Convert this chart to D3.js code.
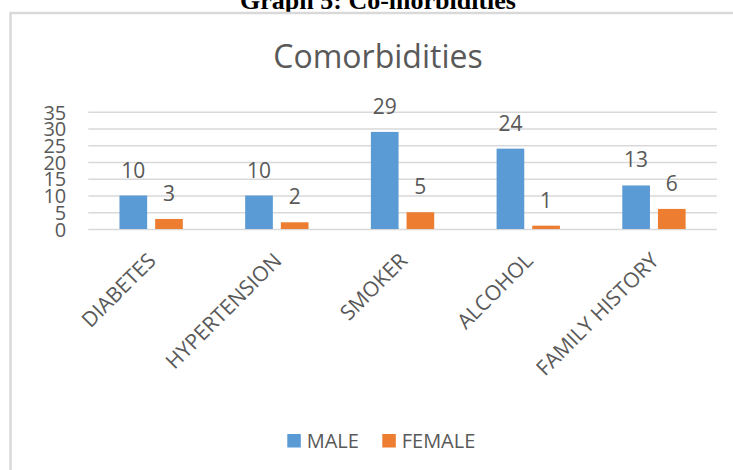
<!DOCTYPE html>
<html>
<head>
<meta charset="utf-8">
<script src="https://cdn.jsdelivr.net/npm/d3@7"></script>
<style>
  html, body { margin: 0; padding: 0; background: #fff; }
  svg { display: block; }
  text { font-family: "Open Sans", sans-serif; fill: #595959; }
</style>
</head>
<body>
<svg id="chart" width="733" height="470"></svg>
<script>
const categories = ["DIABETES", "HYPERTENSION", "SMOKER", "ALCOHOL", "FAMILY HISTORY"];
const seriesNames = ["MALE", "FEMALE"];
const maleValues = [10, 10, 29, 24, 13];
const femaleValues = [3, 2, 5, 1, 6];
const yTicks = [0, 5, 10, 15, 20, 25, 30, 35];
const colors = ["#5B9BD5", "#ED7D31"];

const svg = d3.select("#chart");

// header caption (cut at top)
svg.append("text")
  .attr("x", 378).attr("y", 9)
  .attr("text-anchor", "middle")
  .style("font-family", "'Liberation Serif', 'Times New Roman', serif")
  .style("font-weight", "bold")
  .style("font-size", "26px")
  .style("fill", "#000")
  .text("Graph 5: Co-morbidities");

// chart frame
svg.append("rect")
  .attr("x", 10.5).attr("y", 13)
  .attr("width", 900).attr("height", 600)
  .attr("fill", "none")
  .attr("stroke", "#d9d9d9")
  .attr("stroke-width", 2.5);

// title
svg.append("text")
  .attr("x", 378).attr("y", 67.5)
  .attr("text-anchor", "middle")
  .style("font-size", "32px")
  .text("Comorbidities");

const plot = { left: 88.3, right: 716.8, top: 111.8, bottom: 229 };

const x0 = d3.scaleBand().domain(categories)
  .range([plot.left, plot.right])
  .paddingInner(0.496).paddingOuter(0.248);
const x1 = d3.scaleBand().domain(seriesNames)
  .range([0, x0.bandwidth()])
  .paddingInner(0.224).paddingOuter(0);
const y = d3.scaleLinear().domain([0, 35]).range([plot.bottom, plot.top]);

// y axis with gridlines
const yAxis = d3.axisLeft(y).tickValues(yTicks)
  .tickSize(-(plot.right - plot.left)).tickPadding(22);
const gy = svg.append("g").attr("transform", `translate(${plot.left},0)`).call(yAxis);
gy.select(".domain").remove();
gy.selectAll(".tick line").attr("stroke", "#d9d9d9").attr("stroke-width", 1.6);
gy.selectAll(".tick text")
  .style("font-family", "'Open Sans', sans-serif")
  .style("font-size", "20px")
  .attr("fill", "#595959")
  .attr("dy", "0.36em");

// x axis labels
const xAxis = d3.axisBottom(x0).tickSize(0).tickPadding(0);
const gx = svg.append("g").attr("transform", `translate(0,${plot.bottom})`).call(xAxis);
gx.select(".domain").remove();
gx.selectAll(".tick text")
  .style("font-family", "'Open Sans', sans-serif")
  .style("font-size", "21px")
  .attr("fill", "#595959")
  .attr("y", 0).attr("dy", 0)
  .attr("text-anchor", "end")
  .attr("transform", "translate(6,33) rotate(-45)");

// bars
const rows = categories.map((c, i) => ({ cat: c, vals: [maleValues[i], femaleValues[i]] }));
const groups = svg.append("g").selectAll("g").data(rows).join("g")
  .attr("transform", d => `translate(${x0(d.cat)},0)`);

groups.selectAll("rect")
  .data(d => d.vals.map((v, j) => ({ s: seriesNames[j], v, j })))
  .join("rect")
  .attr("x", d => x1(d.s))
  .attr("width", x1.bandwidth())
  .attr("y", d => y(d.v))
  .attr("height", d => y(0) - y(d.v))
  .attr("fill", d => colors[d.j]);

groups.selectAll("text.lbl")
  .data(d => d.vals.map((v, j) => ({ s: seriesNames[j], v, j })))
  .join("text")
  .attr("class", "lbl")
  .attr("x", d => x1(d.s) + x1.bandwidth() / 2)
  .attr("y", d => y(d.v) - 18)
  .attr("text-anchor", "middle")
  .style("font-size", "21px")
  .text(d => d.v);

// legend
const legendX = [287.3, 382.3];
const lg = svg.append("g").selectAll("g").data(seriesNames).join("g")
  .attr("transform", (d, i) => `translate(${legendX[i]},434)`);
lg.append("rect").attr("width", 13.5).attr("height", 13.5)
  .attr("fill", (d, i) => colors[i]);
lg.append("text").attr("x", 19.4).attr("y", 13.7)
  .style("font-size", "20px")
  .text(d => d);
</script>
</body>
</html>
